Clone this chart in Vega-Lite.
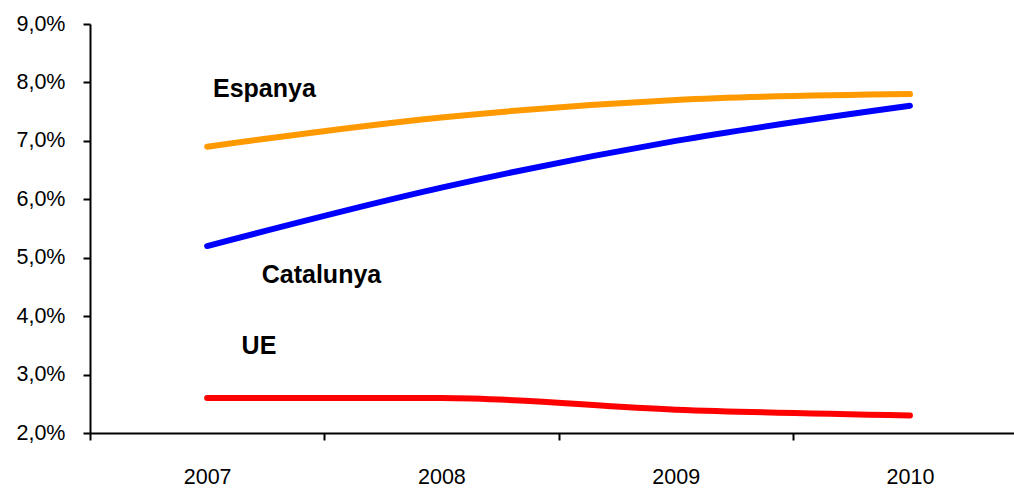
{
  "$schema": "https://vega.github.io/schema/vega-lite/v6.json",
  "width": 924,
  "height": 409,
  "autosize": {"type": "none"},
  "padding": {"left": 90, "top": 24, "right": 0, "bottom": 55},
  "background": "white",
  "config": {
    "view": {"stroke": null},
    "font": "Liberation Sans",
    "locale": {"number": {"decimal": ",", "thousands": ".", "grouping": [3], "currency": ["", " €"]}},
    "axis": {"domainColor": "#000000", "tickColor": "#000000", "labelColor": "#000000", "grid": false, "title": null, "labelFont": "Liberation Sans", "labelFontSize": 21.5, "domainWidth": 2, "tickWidth": 2}
  },
  "datasets": {
    "series": [
      {"year": 2007, "region": "Espanya", "rate": 0.069},
      {"year": 2008, "region": "Espanya", "rate": 0.074},
      {"year": 2009, "region": "Espanya", "rate": 0.077},
      {"year": 2010, "region": "Espanya", "rate": 0.078},
      {"year": 2007, "region": "Catalunya", "rate": 0.052},
      {"year": 2008, "region": "Catalunya", "rate": 0.062},
      {"year": 2009, "region": "Catalunya", "rate": 0.070},
      {"year": 2010, "region": "Catalunya", "rate": 0.076},
      {"year": 2007, "region": "UE", "rate": 0.026},
      {"year": 2008, "region": "UE", "rate": 0.026},
      {"year": 2009, "region": "UE", "rate": 0.024},
      {"year": 2010, "region": "UE", "rate": 0.023}
    ],
    "labels": [
      {"label": "Espanya", "lx": 2007.025, "ly": 0.07744},
      {"label": "Catalunya", "lx": 2007.233, "ly": 0.04564},
      {"label": "UE", "lx": 2007.147, "ly": 0.0336}
    ]
  },
  "layer": [
    {
      "data": {"name": "series"},
      "mark": {"type": "line", "strokeWidth": 6, "strokeCap": "round", "interpolate": "monotone"},
      "encoding": {
        "x": {"field": "year", "type": "quantitative", "scale": {"domain": [2006.5, 2010.444], "nice": false, "zero": false},
          "axis": {"orient": "bottom", "values": [2006.5, 2007.5, 2008.5, 2009.5], "labels": false, "ticks": true, "tickSize": 7, "domain": true}},
        "y": {"field": "rate", "type": "quantitative", "scale": {"domain": [0.02, 0.09], "nice": false, "zero": false},
          "axis": {"values": [0.02, 0.03, 0.04, 0.05, 0.06, 0.07, 0.08, 0.09], "format": ".1%", "tickSize": 7, "labelPadding": 18}},
        "color": {"field": "region", "type": "nominal", "scale": {"domain": ["Espanya", "Catalunya", "UE"], "range": ["#FF9900", "#0000FF", "#FF0000"]}, "legend": null}
      }
    },
    {
      "data": {"name": "labels"},
      "mark": {"type": "text", "align": "left", "baseline": "alphabetic", "fontSize": 25, "fontWeight": "bold", "font": "Liberation Sans", "color": "#000000"},
      "encoding": {
        "x": {"field": "lx", "type": "quantitative", "axis": {"orient": "bottom", "values": [2007, 2008, 2009, 2010], "format": "d", "ticks": false, "domain": false, "labelPadding": 33}},
        "y": {"field": "ly", "type": "quantitative",
          "axis": {"values": [0.02, 0.03, 0.04, 0.05, 0.06, 0.07, 0.08, 0.09], "format": ".1%", "tickSize": 7, "labelPadding": 18}},
        "text": {"field": "label"}
      }
    }
  ],
  "resolve": {"axis": {"x": "independent"}}
}
